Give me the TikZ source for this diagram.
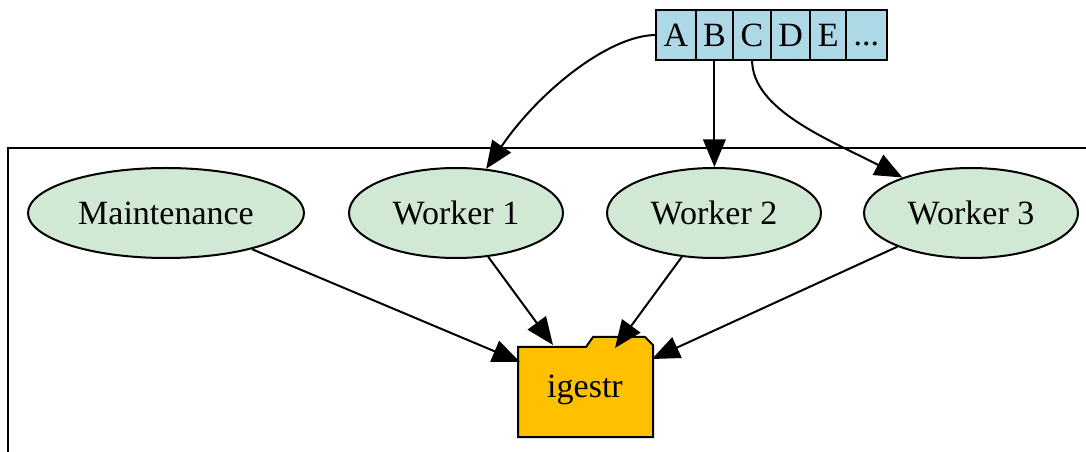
\documentclass[tikz,border=0pt]{standalone}
\usepackage{fontspec}
\setmainfont[Ligatures=NoCommon]{Liberation Serif}
\usetikzlibrary{arrows.meta,positioning,shapes.geometric}
\definecolor{queueblue}{HTML}{ADD8E6}
\definecolor{workergreen}{HTML}{D0E8D4}
\definecolor{storegold}{HTML}{FFC000}
\tikzset{
  cell/.style={draw, fill=queueblue, line width=0.8pt, outer sep=0pt, inner xsep=3pt,
    minimum height=20pt, font=\fontsize{13.6}{16}\selectfont},
  proc/.style={ellipse, draw, fill=workergreen, line width=0.8pt, inner sep=0pt,
    minimum width=85.6pt, minimum height=36pt, font=\fontsize{13.6}{16}\selectfont},
  edge/.style={line width=0.8pt, -{Triangle[length=11pt,width=9pt]}}
}
\begin{document}
\begin{tikzpicture}[x=0.4pt, y=-0.4pt]
\useasboundingbox (0,0) rectangle (1086,452);
% cluster frame
\draw[line width=0.8pt] (8,452) -- (8,148) -- (1086,148);
% queue record
\node[cell, anchor=west] (qa) at (656,35) {A};
\node[cell, right=0pt of qa] (qb) {B};
\node[cell, right=0pt of qb] (qc) {C};
\node[cell, right=0pt of qc] (qd) {D};
\node[cell, right=0pt of qd] (qe) {E};
\node[cell, right=0pt of qe] (qmore) {\mbox{.}\mbox{.}\mbox{.}\vphantom{E}};
% processes
\node[proc, minimum width=110.4pt] (maint) at (166,213) {Maintenance};
\node[proc] (w1) at (456,213) {Worker 1};
\node[proc] (w2) at (714,213) {Worker 2};
\node[proc] (w3) at (971,213) {Worker 3};
% folder
\draw[line width=0.8pt, fill=storegold] (518,437) -- (518,347) -- (586,347) -- (593,337)
  -- (645,337) -- (653,345) -- (653,437) -- cycle;
\node[font=\fontsize{13.6}{16}\selectfont] (igestr) at (585,390) {igestr};
\coordinate (inM) at (520,362);
\coordinate (in1) at (553,345);
\coordinate (in2) at (615,348);
\coordinate (in3) at (652,359);
% queue to workers
\draw[edge] (qa.west) .. controls (610,35) and (540,90) .. (w1);
\draw[edge] (qb.south) -- (qb.south |- w2.north);
\draw[edge] (qc.south) .. controls (752,110) and (830,140) .. (w3);
% workers to folder
\draw[edge] (maint) -- (inM);
\draw[edge] (w1) -- (in1);
\draw[edge] (w2) -- (in2);
\draw[edge] (w3) -- (in3);
\end{tikzpicture}
\end{document}
